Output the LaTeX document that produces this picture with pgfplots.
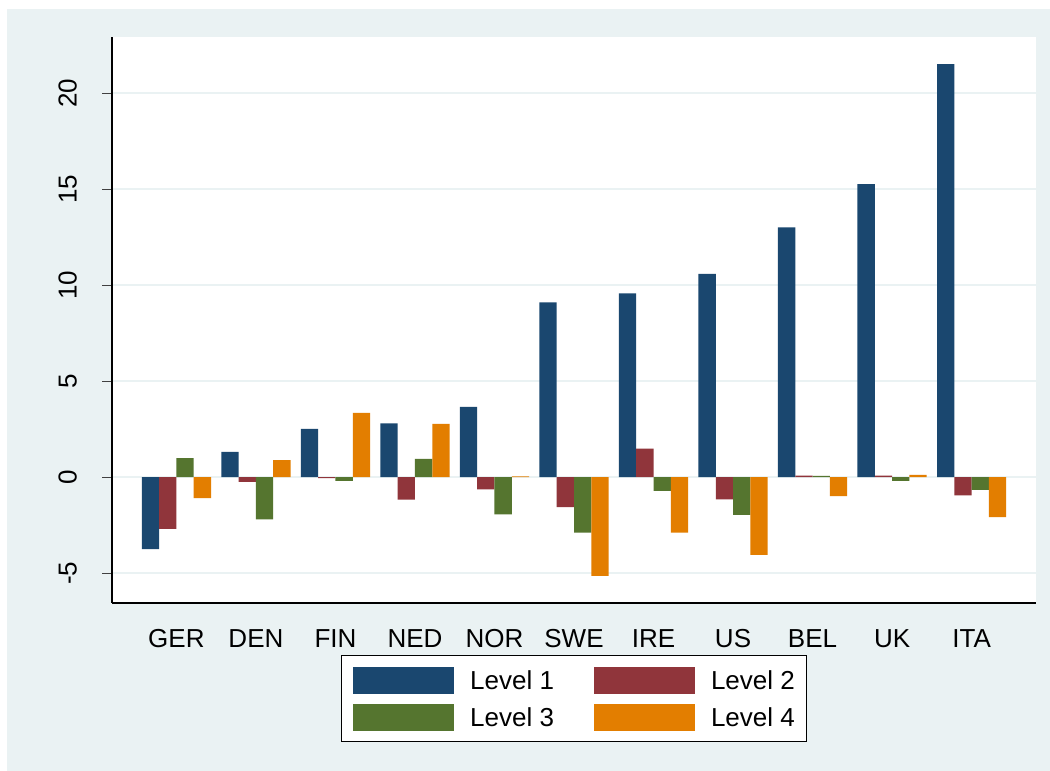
\documentclass[border=0pt]{standalone}
\usepackage{pgfplots}
\pgfplotsset{compat=1.18}
\usepackage{pgfplotstable}
\usepackage{fontspec}
\setmainfont{Liberation Sans}
\definecolor{bgc}{HTML}{EAF2F3}
\definecolor{c1}{HTML}{1A476F}
\definecolor{c2}{HTML}{90353B}
\definecolor{c3}{HTML}{55752F}
\definecolor{c4}{HTML}{E37E00}
\pgfplotstableread{
x L1 L2 L3 L4
0 -3.75 -2.69 0.99 -1.09
1 1.32 -0.24 -2.20 0.89
2 2.52 -0.04 -0.19 3.35
3 2.81 -1.16 0.95 2.78
4 3.66 -0.63 -1.93 0.05
5 9.11 -1.56 -2.88 -5.14
6 9.58 1.49 -0.71 -2.88
7 10.59 -1.15 -1.96 -4.05
8 13.02 0.08 0.07 -0.99
9 15.26 0.08 -0.19 0.12
10 21.51 -0.95 -0.66 -2.08
}\data
\begin{document}
\fontsize{26bp}{31bp}\selectfont
\begin{tikzpicture}[x=1bp,y=1bp,font=\fontsize{26bp}{31bp}\selectfont]
\path[use as bounding box, fill=white] (0,0) rectangle (1050,771);
\fill[bgc] (7,0) rectangle (1050,762);
\begin{axis}[
  at={(112bp,168bp)}, anchor=south west,
  scale only axis, width=924bp, height=566bp,
  axis background/.style={fill=white},
  xmin=-0.81, xmax=10.81, ymin=-6.55, ymax=22.93,
  ybar=0pt, bar width=17.3bp,
  axis lines*=left, axis line style={-, line width=1.2bp, black},
  xtick=data, xticklabels={GER,DEN,FIN,NED,NOR,SWE,IRE,US,BEL,UK,ITA},
  x tick style={draw=none}, major x tick style={draw=none},
  xticklabel style={inner sep=0pt, anchor=north, yshift=-16bp},
  ytick={-5,0,5,10,15,20}, yticklabels={-5,0,5,10,15,20},
  yticklabel style={rotate=90, anchor=south, inner sep=0pt},
  yticklabel shift=25bp,
  tick align=outside, major tick length=10bp,
  y tick style={line width=1.2bp, black!75},
  ymajorgrids, major grid style={color=bgc, line width=2bp},
  legend columns=2,
  legend style={at={(0.5,-0.0919)}, anchor=north, draw=black, line width=1bp, fill=white,
    inner xsep=12bp, inner ysep=11bp, row sep=10bp, column sep=16bp,
    /tikz/every even column/.append style={column sep=40bp},
    nodes={inner sep=0pt}},
  legend image code/.code={\fill[#1,draw=none] (0bp,-11.5bp) rectangle (101bp,15.5bp);},
]
\addplot[fill=c1, draw=none] table[x=x, y=L1] {\data};
\addplot[fill=c2, draw=none] table[x=x, y=L2] {\data};
\addplot[fill=c3, draw=none] table[x=x, y=L3] {\data};
\addplot[fill=c4, draw=none] table[x=x, y=L4] {\data};
\legend{Level 1, Level 2, Level 3, Level 4}
\end{axis}
\end{tikzpicture}
\end{document}
